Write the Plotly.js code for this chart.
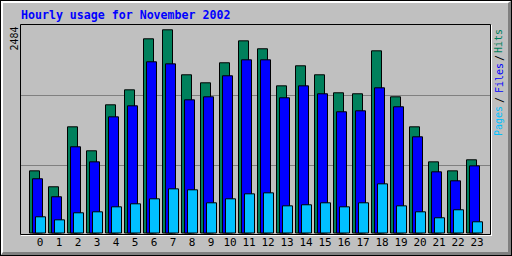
<!DOCTYPE html>
<html>
<head>
<meta charset="utf-8">
<script src="https://cdn.plot.ly/plotly-3.0.1.min.js"></script>
<style>
  html, body { margin: 0; padding: 0; background: #c0c0c0; }
  #wrap { position: relative; width: 512px; height: 256px; overflow: hidden; }
  #chart { position: absolute; left: 0; top: 0; width: 512px; height: 256px; }
  #frame { position: absolute; left: 0; top: 0; width: 512px; height: 256px; box-sizing: border-box; border: 1px solid #000; pointer-events: none; }
  #frame2 { position: absolute; left: 0; top: 0; right: 0; bottom: 0; border-top: 2px solid #fff; border-left: 2px solid #fff; border-right: 3px solid #808080; border-bottom: 3px solid #808080; }
</style>
</head>
<body>
<div id="wrap">
  <div id="chart"></div>
  <div id="frame"><div id="frame2"></div></div>
</div>
<script>
// ---- data ----
const hours = [0,1,2,3,4,5,6,7,8,9,10,11,12,13,14,15,16,17,18,19,20,21,22,23];
const hourLabels = ["0","1","2","3","4","5","6","7","8","9","10","11","12","13","14","15","16","17","18","19","20","21","22","23"];
const hits  = [760,565,1298,1005,1567,1750,2374,2484,1934,1836,2081,2349,2252,1799,2044,1934,1714,1702,2227,1665,1298,870,760,895];
const files = [663,443,1054,870,1420,1555,2093,2068,1628,1665,1922,2117,2117,1653,1799,1702,1482,1494,1775,1543,1176,748,638,821];
const pages = [198,161,247,259,320,357,418,540,528,369,418,479,491,332,345,369,320,369,601,332,259,186,284,137];
const chartTitle = "Hourly usage for November 2002";
const legendWords = ["Hits", "/", "Files", "/", "Pages"];

// ---- layout geometry ----
const L = 20, R = 21, T = 25, B = 22;
const W = 512 - L - R, H = 256 - T - B;
const px = x => (x - L) / W;
const py = y => (T + H - y) / H;

const maxVal = Math.max(...hits);
const step = 19;                 // pixels per hour
const xr = [(L - 40) / step, (L + W - 40) / step];
const perPx = maxVal / 203.2;
const yr = [-(1) * perPx, (H - 1) * perPx];
const bw = 10 / step;

function barTrace(vals, color, offPx, name) {
  return {
    type: 'bar', x: hours, y: vals, name: name,
    width: bw, offset: offPx / step,
    marker: { color: color, line: { color: '#000000', width: 1 } },
    hoverinfo: 'skip'
  };
}

const data = [
  barTrace(hits,  '#00805c', -10.5, 'Hits'),
  barTrace(files, '#0000ff', -7.5, 'Files'),
  barTrace(pages, '#00c0ff', -4.5, 'Pages')
];

const mono = "DejaVu Sans Mono";
const legendColors = ['#00805c', '#000000', '#0000ff', '#000000', '#00c0ff'];
const legendY = [41, 58, 78, 100, 121];

const annotations = [
  { text: chartTitle, xref: 'paper', yref: 'paper', x: px(20), y: py(15),
    xanchor: 'left', yanchor: 'middle', showarrow: false, borderpad: 0,
    font: { family: mono, size: 11.6, color: '#0000ff', weight: 'bold' } },
  { text: String(maxVal), xref: 'paper', yref: 'paper', x: px(13.5), y: py(39),
    xanchor: 'center', yanchor: 'middle', showarrow: false, textangle: -90, borderpad: 0,
    font: { family: mono, size: 10, color: '#000000' } }
];
legendWords.forEach((w, i) => {
  annotations.push({ text: w, xref: 'paper', yref: 'paper', x: px(499), y: py(legendY[i]),
    xanchor: 'center', yanchor: 'middle', showarrow: false, textangle: -90, borderpad: 0,
    font: { family: mono, size: 10, color: legendColors[i] } });
});

const shapes = [
  { type: 'line', xref: 'paper', yref: 'paper', x0: px(20.5), x1: px(490), y0: py(95.5), y1: py(95.5),
    line: { color: '#808080', width: 1 }, layer: 'below' },
  { type: 'line', xref: 'paper', yref: 'paper', x0: px(20.5), x1: px(490), y0: py(165.5), y1: py(165.5),
    line: { color: '#808080', width: 1 }, layer: 'below' },
  { type: 'rect', xref: 'paper', yref: 'paper', x0: px(20.5), x1: px(490.5), y0: py(234.5), y1: py(24.5),
    line: { color: '#000000', width: 1 }, layer: 'above' },
  { type: 'line', xref: 'paper', yref: 'paper', x0: px(491.5), x1: px(491.5), y0: py(235.5), y1: py(25),
    line: { color: '#ffffff', width: 1 }, layer: 'above' },
  { type: 'line', xref: 'paper', yref: 'paper', x0: px(21), x1: px(492), y0: py(235.5), y1: py(235.5),
    line: { color: '#ffffff', width: 1 }, layer: 'above' }
];

const layout = {
  width: 512, height: 256,
  margin: { l: L, r: R, t: T, b: B, pad: 0 },
  paper_bgcolor: '#c0c0c0', plot_bgcolor: '#c0c0c0',
  barmode: 'overlay', showlegend: false,
  xaxis: { range: xr, tickmode: 'array', tickvals: hours, ticktext: hourLabels,
    showgrid: false, zeroline: false, showline: false, ticks: '',
    tickfont: { family: mono, size: 11, color: '#000000' }, fixedrange: true },
  yaxis: { range: yr, showgrid: false, zeroline: false, showline: false,
    showticklabels: false, ticks: '', fixedrange: true },
  shapes: shapes, annotations: annotations
};

Plotly.newPlot('chart', data, layout, { staticPlot: true, displayModeBar: false });
</script>
</body>
</html>
